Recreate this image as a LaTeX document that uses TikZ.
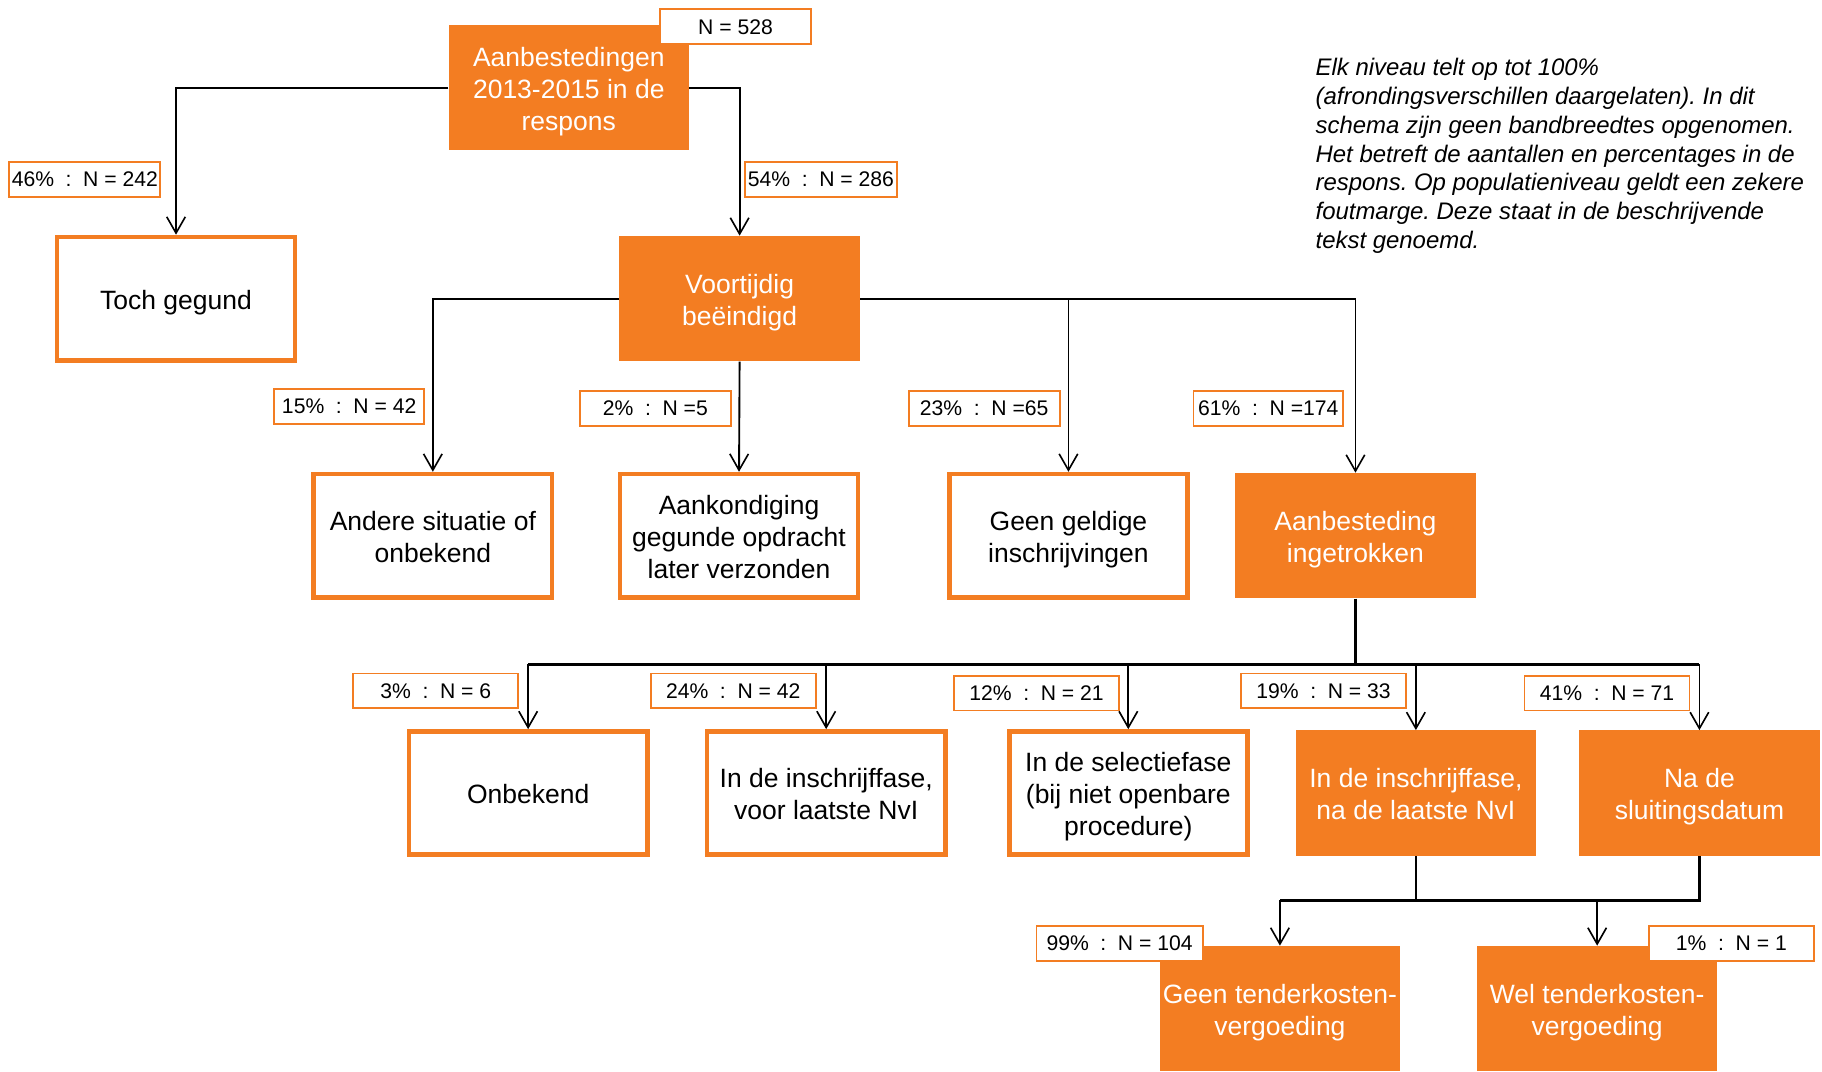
\documentclass[tikz,border=0pt]{standalone}
\usepackage{fontspec}
\setmainfont{Liberation Sans}
\usetikzlibrary{arrows.meta}
\definecolor{myor}{RGB}{243,125,34}
\frenchspacing
\newcommand{\lblsep}{\hspace{0.55em}:\hspace{0.55em}}
\newcommand{\boxfont}{\fontsize{22.8}{27.5}\selectfont}
\newcommand{\lblfont}{\fontsize{18.2}{21}\selectfont}
\newcommand{\notefont}{\fontsize{20.6}{24.8}\selectfont\itshape}
\newcommand{\ls}{\rule[-4.75pt]{0pt}{27.5pt}}
\begin{document}
\begin{tikzpicture}[x=1pt,y=-1pt,
  fillbox/.style={fill=myor, draw=none, text=white, minimum width=207pt, minimum height=108pt, inner sep=0pt, align=center, font=\boxfont},
  whitebox/.style={draw=myor, line width=4pt, fill=white, text=black, minimum width=205pt, minimum height=106pt, inner sep=0pt, align=center, font=\boxfont},
  lbl/.style={draw=myor, line width=1.5pt, fill=white, minimum height=30pt, inner sep=0pt, font=\lblfont},
  conn/.style={line width=1.6pt, draw=black},
  bus/.style={line width=2.2pt, draw=black},
  arr/.style={conn, -{Straight Barb[length=14pt,width=16pt,line width=1.4pt]}}
]
\useasboundingbox[fill=white] (0,0) rectangle (1568,922);

% boxes
\node[fillbox] (top) at (489.5,75.5) {\ls Aanbestedingen\\\ls 2013-2015 in de\\\ls respons};
\node[whitebox] (toch) at (151.5,257) {\ls Toch gegund};
\node[fillbox] (voort) at (636.5,257) {\ls Voortijdig\\\ls beëindigd};
\node[whitebox] (andere) at (372.5,461) {\ls Andere situatie of\\\ls onbekend};
\node[whitebox] (aank) at (636,461) {\ls Aankondiging\\\ls gegunde opdracht\\\ls later verzonden};
\node[whitebox] (geldig) at (919.5,461) {\ls Geen geldige\\\ls inschrijvingen};
\node[fillbox] (ingetr) at (1166.5,461) {\ls Aanbesteding\\\ls ingetrokken};
\node[whitebox] (onb) at (454.5,682.5) {\ls Onbekend};
\node[whitebox] (insvoor) at (711,682.5) {\ls In de inschrijffase,\\\ls voor laatste NvI};
\node[whitebox] (sel) at (971,682.5) {\ls In de selectiefase\\\ls (bij niet openbare\\\ls procedure)};
\node[fillbox] (insna) at (1218.5,682.5) {\ls In de inschrijffase,\\\ls na de laatste NvI};
\node[fillbox] (sluit) at (1462.5,682.5) {\ls Na de\\\ls sluitingsdatum};
\node[fillbox] (geentk) at (1101.5,868) {\ls Geen tenderkosten-\\\ls vergoeding};
\node[fillbox] (weltk) at (1374.5,868) {\ls Wel tenderkosten-\\\ls vergoeding};

% labels
\node[lbl, minimum width=130pt] (n528) at (633,23) {N = 528};
\node[lbl, minimum width=130pt] (l46) at (73,154.5) {46\%\lblsep N = 242};
\node[lbl, minimum width=131pt] (l54) at (706.5,154.5) {54\%\lblsep N = 286};
\node[lbl, minimum width=129pt] (l15) at (300.5,350) {15\%\lblsep N = 42};
\node[lbl, minimum width=130pt] (l2) at (564,351.5) {2\%\lblsep N =5};
\node[lbl, minimum width=130pt] (l23) at (847,351.5) {23\%\lblsep N =65};
\node[lbl, minimum width=129pt] (l61) at (1091.5,351.5) {61\%\lblsep N =174};
\node[lbl, minimum width=142pt] (l3) at (375,594.5) {3\%\lblsep N = 6};
\node[lbl, minimum width=142pt] (l24) at (631,594.5) {24\%\lblsep N = 42};
\node[lbl, minimum width=142pt] (l12) at (892,596.5) {12\%\lblsep N = 21};
\node[lbl, minimum width=142pt] (l19) at (1139,594.5) {19\%\lblsep N = 33};
\node[lbl, minimum width=142pt] (l41) at (1383,596.5) {41\%\lblsep N = 71};
\node[lbl, minimum width=143pt] (l99) at (963.5,812) {99\%\lblsep N = 104};
\node[lbl, minimum width=142pt] (l1) at (1490,812) {1\%\lblsep N = 1};

% note
\node[anchor=north west, inner sep=0pt, align=left, font=\notefont] (note) at (1132,50)
 {Elk niveau telt op tot 100\%\\(afrondingsverschillen daargelaten). In dit\\schema zijn geen bandbreedtes opgenomen.\\Het betreft de aantallen en percentages in de\\respons. Op populatieniveau geldt een zekere\\foutmarge. Deze staat in de beschrijvende\\tekst genoemd.};

% connectors level 1
\draw[arr] (top.west) -| (toch.north);
\draw[arr] (top.east) -| (voort.north);
% level 2
\draw[arr] (voort.west) -| (andere.north);
\draw[arr] (voort.south) -- (aank.north);
\draw[arr] (voort.east) -| (geldig.north);
\draw[arr] (voort.east) -| (ingetr.north);
% level 3
\coordinate (bus) at (1166.5,572);
\draw[bus] (ingetr.south) -- (bus);
\draw[arr] (bus) -| (onb.north);
\draw[arr] (bus) -| (insvoor.north);
\draw[arr] (bus) -| (sel.north);
\draw[arr] (bus) -| (insna.north);
\draw[arr] (bus) -| (sluit.north);
\draw[bus] (onb.north |- bus) -- (sluit.north |- bus);
% level 4
\coordinate (bustwo) at (1218.5,775);
\coordinate (busthree) at (1462.5,775);
\draw[bus] (insna.south) -- (bustwo);
\draw[bus] (sluit.south) -- (busthree) -- (bustwo);
\draw[bus] (bustwo) -- (geentk.north |- bustwo);
\draw[arr] (bustwo) -| (geentk.north);
\draw[arr] (busthree) -| (weltk.north);
\end{tikzpicture}
\end{document}
